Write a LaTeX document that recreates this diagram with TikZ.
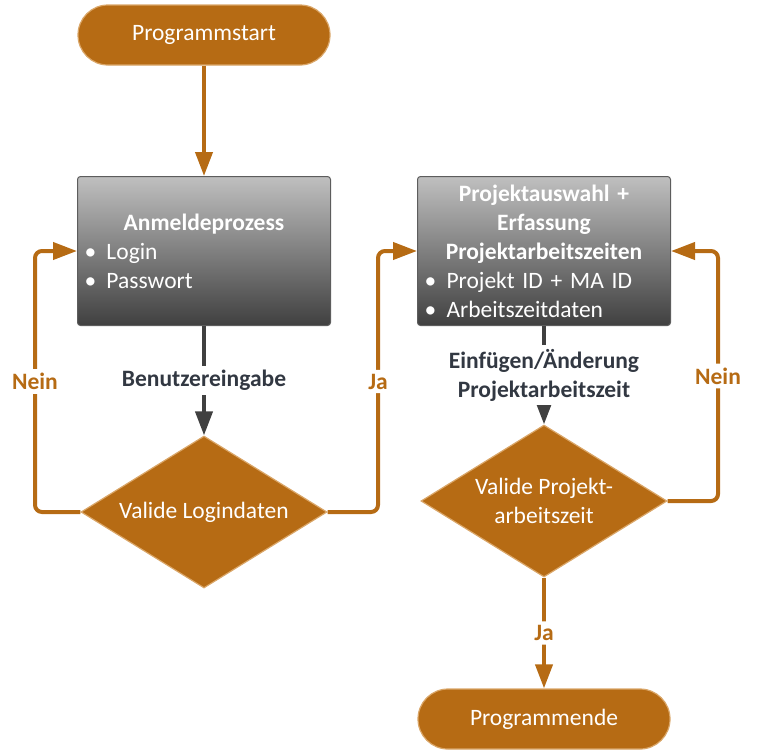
\documentclass[tikz,border=0pt]{standalone}
\usepackage{fontspec}
\setmainfont{Carlito}
\usetikzlibrary{shapes.geometric,arrows.meta}

\definecolor{braun}{RGB}{182,107,20}
\definecolor{braunhell}{RGB}{218,166,104}
\definecolor{dunkel}{RGB}{64,64,64}
\definecolor{schrift}{RGB}{50,56,66}

\newcommand{\schrift}{\fontsize{23.5}{29}\selectfont}
\newcommand{\punkt}[1]{\makebox[22pt][l]{\textbullet}#1}
\newcommand{\titel}[1]{\makebox[239pt][c]{\bfseries #1}}

\tikzset{
    terminal/.style={rectangle, rounded corners=30pt, fill=braun, draw=braunhell,
        line width=1.2pt, minimum width=252pt, minimum height=60pt,
        text=white, font=\schrift},
    prozess/.style={rectangle, rounded corners=3pt, top color=gray!50,
        bottom color=dunkel, draw=dunkel!85, line width=1pt,
        minimum width=253pt, minimum height=149pt, inner sep=0pt,
        text width=239pt, align=left, text=white, font=\schrift},
    entscheidung/.style={diamond, aspect=1.6, inner sep=0pt, fill=braun,
        draw=braunhell, line width=1.2pt, minimum width=246pt,
        minimum height=152pt, text=white, align=center, font=\schrift},
    fluss/.style={draw=braun, line width=4pt, rounded corners=7pt,
        -{Triangle[width=17pt,length=24pt]}},
    eingabe/.style={draw=dunkel, line width=4pt,
        -{Triangle[width=17pt,length=24pt]}},
    randtext/.style={fill=white, text=braun, inner xsep=3pt, inner ysep=4pt,
        font=\schrift\bfseries},
}

\begin{document}
\begin{tikzpicture}[x=1pt, y=-1pt]
    \useasboundingbox (0,0) rectangle (759,755);

    % Start und Anmeldung
    \node[terminal] (start) at (204,35) {Programmstart};
    \node[prozess] (anmeldung) at (204,251) {\titel{Anmeldeprozess}\\
        \punkt{Login}\\
        \punkt{Passwort}};
    \node[entscheidung] (login) at (204,512) {Valide Logindaten};

    % Erfassung
    \node[prozess] (erfassung) at (544,251) {\titel{Projektauswahl +}\\
        \titel{Erfassung}\\
        \titel{Projektarbeitszeiten}\\
        \punkt{Projekt ID + MA ID}\\
        \punkt{Arbeitszeitdaten}};
    \node[entscheidung] (pruefung) at (544,501) {Valide Projekt-\\arbeitszeit};
    \node[terminal] (ende) at (544,719) {Programmende};

    % Verbindungen
    \draw[fluss] (start) -- (anmeldung);
    \draw[eingabe] (anmeldung) -- node[randtext, text=schrift] (eingabetext) {Benutzereingabe} (login);
    \draw[fluss] (login.west) -| node[randtext, pos=0.75] (neinlinks) {Nein}
        ([xshift=-42pt]anmeldung.west) -- (anmeldung.west);
    \draw[fluss] (login.east) -| node[randtext, pos=0.75] (jalinks) {Ja}
        ([xshift=-39pt]erfassung.west) -- (erfassung.west);
    \draw[eingabe] (erfassung) -- node[randtext, text=schrift, align=center] (aenderungtext)
        {Einfügen/Änderung\\Projektarbeitszeit} (pruefung);
    \draw[fluss] (pruefung.east) -| node[randtext, pos=0.75] (neinrechts) {Nein}
        ([xshift=47pt]erfassung.east) -- (erfassung.east);
    \draw[fluss] (pruefung) -- node[randtext] (jaunten) {Ja} (ende);
\end{tikzpicture}
\end{document}
